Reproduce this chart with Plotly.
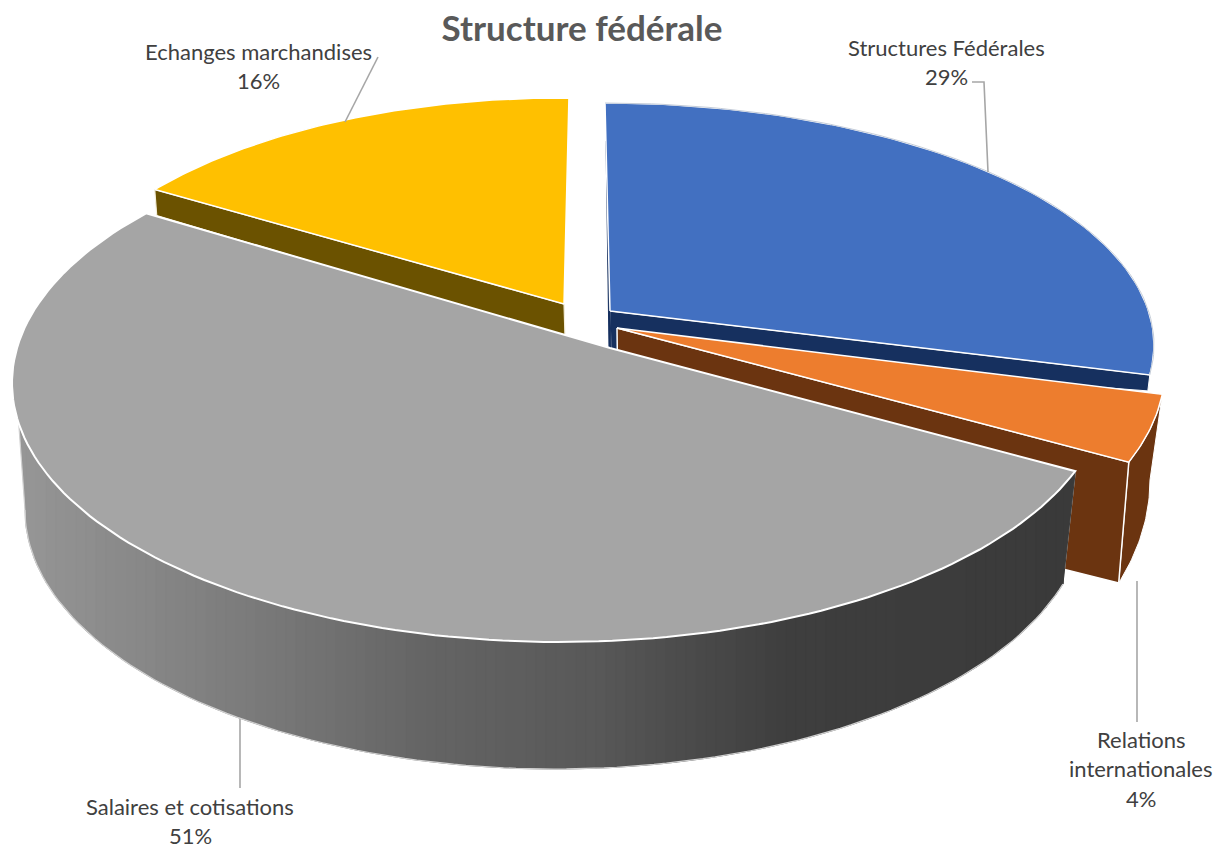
import math
import plotly.graph_objects as go

TITLE = "Structure fédérale"
CATEGORIES = ["Structures Fédérales", "Relations<br>internationales", "Salaires et cotisations", "Echanges marchandises"]
VALUES = [29, 4, 51, 16]
TOP_COLORS = ["#4270c1", "#ed7d2e", "#a5a5a5", "#ffc000"]
SIDE_COLORS = ["#16305f", "#6b3410", "#6e6e6e", "#6b5200"]

# projection of each exploded slice: tip, ellipse, angle warp (perspective look)
PROJ = [
    dict(tip=(610, 311), c=(605, 345), r=(549, 242), t0=0.0, k=0.93),
    dict(tip=(617, 328), c=(610, 368), r=(555, 265), t0=95.7, k=1.049),
    dict(tip=(610, 348), c=(560, 383), r=(548, 259), t0=109.9, k=1.095),
    dict(tip=(564, 304), c=(560, 343), r=(520, 245), t0=308.8, k=0.906),
]
GREY_BASE = dict(c=(555, 510), r=(530, 259))
ORANGE_BASE = dict(c=(700, 480), r=(450, 281))
WALL_SHADE = [(20, 150), (240, 124), (430, 100), (600, 88), (680, 76), (790, 62), (1070, 58)]

total = sum(VALUES)
bounds = []
acc = 0
for v in VALUES:
    bounds.append((acc / total * 360, (acc + v) / total * 360))
    acc += v


def ell(c, r, t):
    a = math.radians(t)
    return (c[0] + r[0] * math.sin(a), c[1] - r[1] * math.cos(a))


def arc(c, r, t1, t2, n=80):
    return [ell(c, r, t1 + (t2 - t1) * i / n) for i in range(n + 1)]


def slice_range(i):
    p = PROJ[i]
    a, b = bounds[i]
    return p["t0"], p["t0"] + p["k"] * (b - a)


def low_y(c, r, x):
    d = max(-1.0, min(1.0, (x - c[0]) / r[0]))
    return c[1] + r[1] * math.sqrt(1 - d * d)


def shade(x):
    for (x0, g0), (x1, g1) in zip(WALL_SHADE, WALL_SHADE[1:]):
        if x <= x1:
            f = max(0.0, (x - x0) / (x1 - x0))
            return int(round(g0 + (g1 - g0) * f))
    return WALL_SHADE[-1][1]


fig = go.Figure()


def poly(pts, fill, line="white", width=1.5):
    xs = [p[0] for p in pts] + [pts[0][0]]
    ys = [p[1] for p in pts] + [pts[0][1]]
    fig.add_trace(go.Scatter(x=xs, y=ys, mode="lines", fill="toself", fillcolor=fill,
                             line=dict(color=line, width=width), hoverinfo="skip", showlegend=False))


def path(pts, color, width):
    fig.add_trace(go.Scatter(x=[p[0] for p in pts], y=[p[1] for p in pts], mode="lines",
                             line=dict(color=color, width=width), hoverinfo="skip", showlegend=False))


def leader(pts):
    path(pts, "#a6a6a6", 1.6)


leader([(1137, 581), (1137, 722)])
leader([(240, 716), (240, 788)])

# --- yellow slice
ts, te = slice_range(3)
yl = ell(PROJ[3]["c"], PROJ[3]["r"], ts)
ytip = PROJ[3]["tip"]
poly([yl, ytip, (ytip[0] + 1, ytip[1] + 33), (yl[0] + 2, yl[1] + 26)], SIDE_COLORS[3], "#f4eeda", 1.2)
poly([ytip] + arc(PROJ[3]["c"], PROJ[3]["r"], ts, te), TOP_COLORS[3])

# --- blue slice
ts, te = slice_range(0)
btip = PROJ[0]["tip"]
be = ell(PROJ[0]["c"], PROJ[0]["r"], te)
poly([btip, be, (be[0] - 2, be[1] + 16), (btip[0] + 1, btip[1] + 40)], SIDE_COLORS[0], "white", 1)
poly([(btip[0] - 4, btip[1] - 170), btip, (btip[0] + 1, btip[1] + 38), (btip[0] - 1, btip[1] + 38)], SIDE_COLORS[0], SIDE_COLORS[0], 1)
poly([btip] + arc(PROJ[0]["c"], PROJ[0]["r"], ts, te), TOP_COLORS[0], "#ffffff", 1.5)
path(arc(PROJ[0]["c"], PROJ[0]["r"], ts, te), "#c4ccd8", 1.0)

# --- orange slice
ts, te = slice_range(1)
otip = PROJ[1]["tip"]
oc, or_ = PROJ[1]["c"], PROJ[1]["r"]
o_end = ell(oc, or_, te)
o_base = arc(ORANGE_BASE["c"], ORANGE_BASE["r"], 90, 111.5, 30)
poly(arc(oc, or_, ts, te, 20) + o_base[::-1], SIDE_COLORS[1], "white", 1)
poly([otip, o_end, o_base[-1], (o_base[-1][0] - 500, o_base[-1][1] - 125)], SIDE_COLORS[1], "white", 1.5)
poly([otip] + arc(oc, or_, ts, te, 20), TOP_COLORS[1])

# --- grey slice: outer wall shaded in vertical bands, then the top
ts, te = slice_range(2)
gc, gr = PROJ[2]["c"], PROJ[2]["r"]
bc, br = GREY_BASE["c"], GREY_BASE["r"]
WALL_TOP_END = 261.0
BASE_START, BASE_END = 106.6, 270.0
outline = arc(gc, gr, ts, WALL_TOP_END, 120) + arc(bc, br, BASE_END, BASE_START, 120)
poly(outline, f"rgb({WALL_SHADE[0][1]},{WALL_SHADE[0][1]},{WALL_SHADE[0][1]})", "#d0d0d0", 1.2)
x_right = ell(bc, br, BASE_START)[0]
dark = WALL_SHADE[-1][1]
poly([ell(gc, gr, ts), (x_right, low_y(gc, gr, x_right)), ell(bc, br, BASE_START)], f"rgb({dark},{dark},{dark})", f"rgb({dark},{dark},{dark})", 1)
STRIP = 10
x = bc[0] - br[0] + 1
while x < x_right - 0.5:
    x2 = min(x + STRIP, x_right)
    g = shade((x + x2) / 2)
    col = f"rgb({g},{g},{g})"
    n = 4
    xs_ = [x + (x2 - x) * i / n for i in range(n + 1)]
    top = [(q, low_y(gc, gr, q)) for q in xs_]
    bot = [(q, low_y(bc, br, q)) for q in xs_]
    poly(top + bot[::-1], col, col, 0.6)
    x = x2
path(arc(bc, br, BASE_END, BASE_START, 120), "#d0d0d0", 1.2)
gtip = PROJ[2]["tip"]
poly([gtip] + arc(gc, gr, ts, te, 140), TOP_COLORS[2], "white", 2)

leader([(972, 82), (984, 82), (988, 172)])
leader([(378, 57), (345, 122)])

# --- labels
LABEL_POS = [(946, 47), (1141, 739), (190, 806), (258, 51)]
LINE_STEP = 29.5
annotations = []
for cat, val, (lx, ly) in zip(CATEGORIES, VALUES, LABEL_POS):
    for n, line in enumerate(cat.split("<br>") + [f"{val}%"]):
        annotations.append(dict(x=lx, y=ly + n * LINE_STEP, xref="x", yref="y", text=line, showarrow=False,
                                xanchor="center", yanchor="middle",
                                font=dict(family="Lato", size=22, color="#404040")))

fig.update_layout(
    width=1232, height=850, margin=dict(l=0, r=0, t=0, b=0),
    paper_bgcolor="white", plot_bgcolor="white", showlegend=False,
    title=dict(text=f"<b>{TITLE}</b>", x=582 / 1232, y=1 - 29 / 850, xanchor="center", yanchor="middle",
               font=dict(family="Lato", size=35, color="#595959")),
    xaxis=dict(range=[0, 1232], visible=False, fixedrange=True),
    yaxis=dict(range=[850, 0], visible=False, fixedrange=True),
    annotations=annotations,
)
fig.write_html("out.html", config=dict(displayModeBar=False),
               post_script="document.body.style.margin='0';document.body.style.overflow='hidden';")
